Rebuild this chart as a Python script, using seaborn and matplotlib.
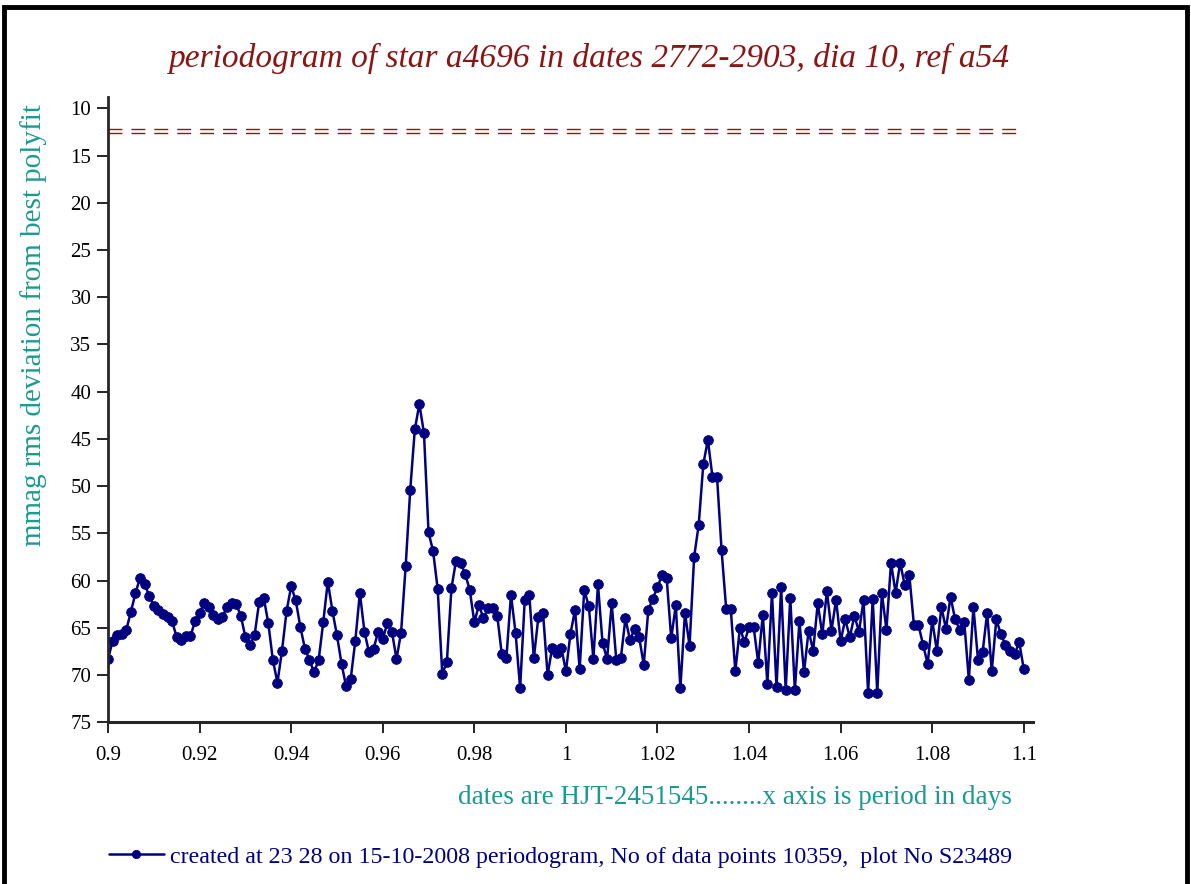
import numpy as np
import matplotlib
matplotlib.use("Agg")
import matplotlib.pyplot as plt
from matplotlib.patches import Rectangle
import seaborn as sns

# periodogram values (mmag rms deviation), one per period step of 0.001 d
period_start = 0.9
period_step = 0.001
rms_dev = [
    68.3, 66.4, 65.8, 65.7, 65.2, 63.3, 61.3, 59.7, 60.4, 61.6,
    62.7, 63.1, 63.5, 63.8, 64.3, 66.0, 66.3, 65.9, 65.9, 64.3,
    63.4, 62.4, 62.8, 63.6, 64.1, 63.8, 62.8, 62.4, 62.5, 63.7,
    66.0, 66.8, 65.8, 62.3, 61.8, 64.5, 68.4, 70.8, 67.4, 63.2,
    60.6, 62.1, 64.9, 67.2, 68.4, 69.7, 68.4, 64.4, 60.1, 63.2,
    65.8, 68.8, 71.2, 70.4, 66.4, 61.3, 65.4, 67.6, 67.2, 65.4,
    66.2, 64.5, 65.4, 68.3, 65.5, 58.5, 50.4, 44.0, 41.3, 44.4,
    54.9, 56.9, 60.9, 69.9, 68.6, 60.8, 57.9, 58.1, 59.3, 61.0,
    64.4, 62.6, 64.0, 62.9, 62.9, 63.7, 67.8, 68.2, 61.5, 65.5,
    71.4, 62.1, 61.5, 68.2, 63.8, 63.4, 70.0, 67.1, 67.7, 67.1,
    69.6, 65.6, 63.1, 69.4, 61.0, 62.7, 68.3, 60.4, 66.6, 68.3,
    62.4, 68.4, 68.2, 64.0, 66.3, 65.1, 66.0, 68.9, 63.1, 61.9,
    60.7, 59.4, 59.7, 66.1, 62.6, 71.4, 63.4, 66.9, 57.5, 54.1,
    47.7, 45.1, 49.0, 49.0, 56.8, 63.0, 63.0, 69.6, 65.0, 66.5,
    64.9, 64.9, 68.7, 63.6, 70.9, 61.3, 71.3, 60.7, 71.6, 61.8,
    71.6, 64.3, 69.7, 65.3, 67.4, 62.4, 65.7, 61.1, 65.3, 62.0,
    66.4, 64.1, 66.0, 63.7, 65.4, 62.1, 71.9, 61.9, 71.9, 61.3,
    65.2, 58.1, 61.3, 58.1, 60.5, 59.4, 64.7, 64.7, 66.8, 68.8,
    64.2, 67.4, 62.8, 65.1, 61.7, 64.1, 65.2, 64.4, 70.5, 62.8,
    68.4, 67.6, 63.4, 69.6, 64.1, 65.7, 66.8, 67.5, 67.8, 66.5,
    69.4,
]
periods = np.round(period_start + period_step * np.arange(len(rms_dev)), 3)

# the two dashed reference levels near the top
ref_levels = [12.2, 12.6]

x_ticks = [0.9, 0.92, 0.94, 0.96, 0.98, 1.0, 1.02, 1.04, 1.06, 1.08, 1.1]
x_tick_labels = ["0.9", "0.92", "0.94", "0.96", "0.98", "1",
                 "1.02", "1.04", "1.06", "1.08", "1.1"]
y_ticks = [10, 15, 20, 25, 30, 35, 40, 45, 50, 55, 60, 65, 70, 75]

title = "periodogram of star a4696 in dates 2772-2903, dia 10, ref a54"
y_label = "mmag rms deviation from best polyfit"
x_label = "dates are HJT-2451545........x axis is period in days"
legend_label = ("created at 23 28 on 15-10-2008 periodogram, "
                "No of data points 10359,  plot No S23489")

navy = "#000080"
teal = "#1a9a90"
darkred = "#8b1414"

sns.set_style("ticks")
plt.rcParams["font.family"] = ["Liberation Serif", "DejaVu Serif"]

fig = plt.figure(figsize=(11.91, 8.84), dpi=100)
ax = fig.add_axes([0.0907, 0.1829, 0.7766, 0.7070])

sns.lineplot(x=periods, y=rms_dev, ax=ax, color=navy, lw=1.8,
             marker="o", markersize=7, markeredgecolor=navy,
             markeredgewidth=0.6, label=legend_label, legend=False)

for lev in ref_levels:
    ax.axhline(lev, xmin=0, xmax=0.99, color="#a01010", lw=1.0,
               dashes=(10, 6.5))

ax.set_xlim(0.9, 1.102)
ax.set_ylim(75, 8.84)
ax.set_xticks(x_ticks)
ax.set_xticklabels(x_tick_labels)
ax.set_yticks(y_ticks)
ax.tick_params(axis="both", labelsize=15, length=8, width=1.2,
               direction="out", colors="black")
ax.tick_params(axis="x", pad=9)
ax.tick_params(axis="y", pad=4)
for s in ["top", "right"]:
    ax.spines[s].set_visible(False)
ax.spines["left"].set_linewidth(2)
ax.spines["bottom"].set_linewidth(2.2)
ax.set_xlabel("")
ax.set_ylabel("")

fig.text(0.495, 0.934, title, ha="center", va="center", fontsize=24,
         style="italic", color=darkred)
fig.text(0.028, 0.632, y_label, ha="center", va="center", fontsize=21,
         rotation=90, color=teal)
fig.text(0.617, 0.0984, x_label, ha="center", va="center", fontsize=19.5,
         color=teal)

handles = ax.get_lines()[:1]
fig.legend(handles, [legend_label], loc="center left",
           bbox_to_anchor=(0.073, 0.031), frameon=False, fontsize=17.3,
           handlelength=2.3, handletextpad=0.25, labelcolor=navy,
           markerscale=0.85)

# outer frame like the original screenshot
fig.patches.append(Rectangle((0.0035, -0.05), 0.9935, 1.042,
                             transform=fig.transFigure, fill=False,
                             edgecolor="black", lw=3.5, zorder=10))

fig.savefig("out.png", dpi=100)
plt.close(fig)
